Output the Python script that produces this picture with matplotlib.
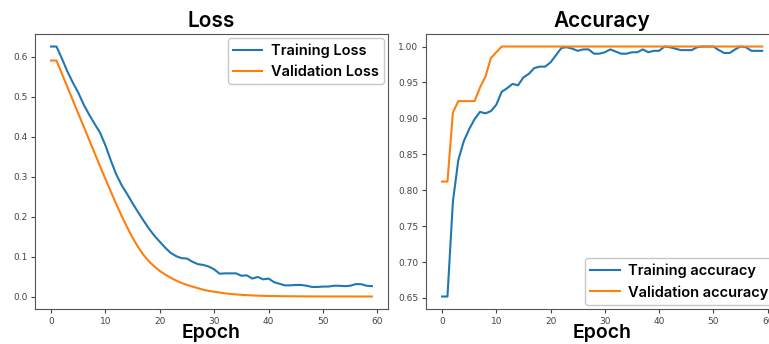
import matplotlib
matplotlib.use("Agg")
import matplotlib.pyplot as plt
import numpy as np

epochs = list(range(60))

train_loss = [0.625, 0.625, 0.595, 0.563, 0.535, 0.510, 0.480, 0.455, 0.432, 0.410,
              0.378, 0.340, 0.305, 0.278, 0.256, 0.233, 0.211, 0.190, 0.170, 0.152,
              0.137, 0.122, 0.109, 0.101, 0.096, 0.095, 0.087, 0.081, 0.079, 0.075,
              0.068, 0.057, 0.058, 0.058, 0.058, 0.052, 0.053, 0.045, 0.049, 0.043,
              0.045, 0.036, 0.032, 0.028, 0.028, 0.029, 0.029, 0.027, 0.024, 0.024,
              0.025, 0.025, 0.027, 0.027, 0.026, 0.027, 0.031, 0.031, 0.027, 0.026]
val_loss = [0.590, 0.590, 0.557, 0.524, 0.491, 0.458, 0.425, 0.392, 0.359, 0.326,
            0.294, 0.262, 0.231, 0.201, 0.173, 0.147, 0.124, 0.104, 0.088, 0.075,
            0.064, 0.055, 0.047, 0.040, 0.034, 0.029, 0.025, 0.021, 0.017, 0.014,
            0.012, 0.010, 0.008, 0.0065, 0.0053, 0.0043, 0.0035, 0.0028, 0.0023, 0.0018,
            0.0015, 0.0012, 0.0010, 0.0008, 0.0007, 0.0006, 0.0005, 0.0004, 0.0004, 0.0003,
            0.0003, 0.0002, 0.0002, 0.0002, 0.0002, 0.0002, 0.0001, 0.0001, 0.0001, 0.0001]

train_acc = [0.652, 0.652, 0.784, 0.842, 0.868, 0.885, 0.899, 0.909, 0.907, 0.910,
             0.919, 0.937, 0.942, 0.948, 0.946, 0.957, 0.962, 0.970, 0.972, 0.972,
             0.978, 0.988, 0.998, 0.999, 0.997, 0.994, 0.996, 0.996, 0.990, 0.990,
             0.992, 0.996, 0.993, 0.990, 0.990, 0.992, 0.992, 0.996, 0.992, 0.994,
             0.994, 1.000, 0.999, 0.997, 0.995, 0.995, 0.995, 0.999, 1.000, 1.000,
             1.000, 0.995, 0.991, 0.991, 0.996, 1.000, 0.999, 0.994, 0.994, 0.994]
val_acc = [0.812, 0.812, 0.908, 0.924, 0.924, 0.924, 0.924, 0.943, 0.958, 0.984,
           0.992] + [1.0] * 49

fig = plt.figure(figsize=(7.69, 3.44), dpi=100)
ax1 = fig.add_axes([0.0455, 0.1017, 0.459, 0.7994])
ax2 = fig.add_axes([0.554, 0.1017, 0.458, 0.7994])

txt_font = dict(family=["Inter", "DejaVu Sans"], weight="semibold")
leg_kw = dict(prop=dict(size=10.5, **txt_font), borderaxespad=0.3,
              handletextpad=0.6, borderpad=0.35, edgecolor="#bbbbbb")

ax1.plot(epochs, train_loss, color="#1f77b4", lw=1.5, label="Training Loss")
ax1.plot(epochs, val_loss, color="#ff7f0e", lw=1.5, label="Validation Loss")
ax1.set_title("Loss", fontsize=15, pad=5, **txt_font)
ax1.set_xlabel("Epoch", fontsize=14, labelpad=-1, **txt_font)
ax1.legend(loc="upper right", **leg_kw)

ax2.plot(epochs, train_acc, color="#1f77b4", lw=1.5, label="Training accuracy")
ax2.plot(epochs, val_acc, color="#ff7f0e", lw=1.5, label="Validation accuracy")
ax2.set_title("Accuracy", fontsize=15, pad=5, **txt_font)
ax2.set_xlabel("Epoch", fontsize=14, labelpad=-1, **txt_font)
ax2.legend(loc="lower right", **leg_kw)

for ax in (ax1, ax2):
    ax.tick_params(labelsize=6.5, colors="#444444", length=3, pad=2.5)
    for s in ax.spines.values():
        s.set_color("#555555")
ax1.set_yticks([0.0, 0.1, 0.2, 0.3, 0.4, 0.5, 0.6])
ax2.set_yticks([0.65, 0.70, 0.75, 0.80, 0.85, 0.90, 0.95, 1.00])
ax2.set_yticklabels(["0.65", "0.70", "0.75", "0.80", "0.85", "0.90", "0.95", "1.00"])

fig.savefig("out.png", dpi=100)
